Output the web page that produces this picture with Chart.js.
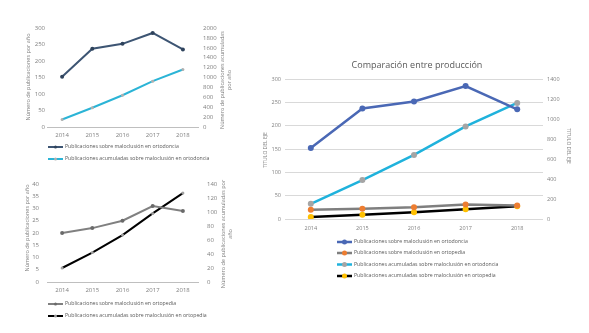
<!DOCTYPE html>
<html><head><meta charset="utf-8">
<script src="https://cdn.jsdelivr.net/npm/chart.js@4/dist/chart.umd.min.js"></script>
<style>
html,body{margin:0;padding:0;background:#fff;width:589px;height:333px;overflow:hidden;}
canvas{position:absolute;}
</style></head><body>
<canvas id="c1" width="240" height="170" style="left:0;top:0"></canvas>
<canvas id="c2" width="240" height="163" style="left:0;top:170px"></canvas>
<canvas id="c3" width="349" height="333" style="left:240px;top:0"></canvas>
<script>
const years = ['2014','2015','2016','2017','2018'];
const ortodonciaAnual = [152, 237, 252, 285, 235];
const ortodonciaAcum = [152, 389, 641, 926, 1161];
const ortopediaAnual = [20, 22, 25, 31, 29];
const ortopediaAcum = [20, 42, 67, 98, 127];
const lblOrtodAnual = 'Publicaciones sobre maloclusión en ortodoncia';
const lblOrtodAcum = 'Publicaciones acumuladas sobre maloclusión en ortodoncia';
const lblOrtopAnual = 'Publicaciones sobre maloclusión en ortopedia';
const lblOrtopAcum = 'Publicaciones acumuladas sobre maloclusión en ortopedia';

Chart.defaults.font.family = '"Open Sans", sans-serif';
Chart.defaults.color = '#7f7f7f';

const overlay = {
  id: 'overlay',
  afterDraw(chart, args, opts) {
    const ctx = chart.ctx;
    (opts.texts || []).forEach(t => {
      ctx.save();
      ctx.translate(t.x, t.y);
      ctx.rotate(t.rot || 0);
      ctx.font = t.font;
      ctx.fillStyle = t.color;
      ctx.textAlign = 'center';
      ctx.textBaseline = 'middle';
      t.lines.forEach((l, i) => ctx.fillText(l, 0, (i - (t.lines.length - 1) / 2) * t.lh));
      ctx.restore();
    });
    const lg = opts.legend;
    if (lg) {
      lg.rows.forEach((r, i) => {
        const ds = chart.data.datasets[r];
        const y = lg.ys[i];
        ctx.save();
        ctx.strokeStyle = ds.borderColor;
        ctx.lineWidth = lg.lw;
        ctx.beginPath(); ctx.moveTo(lg.x, y); ctx.lineTo(lg.x + lg.len, y); ctx.stroke();
        ctx.fillStyle = ds.pointBackgroundColor;
        ctx.beginPath(); ctx.arc(lg.x + lg.len / 2, y, lg.r, 0, Math.PI * 2); ctx.fill();
        ctx.font = lg.font;
        ctx.fillStyle = '#595959';
        ctx.textAlign = 'left';
        ctx.textBaseline = 'middle';
        ctx.fillText(ds.label, lg.x + lg.len + 2, y);
        ctx.restore();
      });
    }
  }
};

function fixW(w) { return s => { s.width = w; }; }
function fixH(h) { return s => { s.height = h; }; }
const plain = v => String(v);

function baseOpts(o) {
  return {
    responsive: false, animation: false, devicePixelRatio: 1,
    layout: { padding: { top: o.top, left: 0, right: 0, bottom: 0 } },
    plugins: { legend: { display: false }, tooltip: { enabled: false }, overlay: o.overlay },
    scales: {
      x: {
        offset: true,
        grid: { display: false, drawTicks: false },
        border: { display: o.xBorder, color: '#bfbfbf', width: 1 },
        ticks: { padding: o.xPad, font: { size: o.tick }, color: '#7f7f7f', maxRotation: 0, autoSkip: false },
        afterFit: fixH(o.xH)
      },
      y: {
        position: 'left', min: 0, max: o.yMax,
        grid: { display: o.grid, color: '#d9d9d9', drawTicks: false },
        border: { display: false },
        ticks: { stepSize: o.yStep, padding: o.yPad, font: { size: o.tick }, color: '#7f7f7f', autoSkip: false, callback: plain },
        afterFit: fixW(o.yW)
      },
      y1: {
        position: 'right', min: 0, max: o.y1Max,
        grid: { display: false, drawOnChartArea: false, drawTicks: false },
        border: { display: false },
        ticks: { stepSize: o.y1Step, padding: o.y1Pad, font: { size: o.tick }, color: '#7f7f7f', autoSkip: false, callback: plain },
        afterFit: fixW(o.y1W)
      }
    }
  };
}

// Chart 1: ortodoncia
new Chart(document.getElementById('c1'), {
  type: 'line',
  data: {
    labels: years,
    datasets: [
      { label: lblOrtodAnual, data: ortodonciaAnual, yAxisID: 'y', borderColor: '#3d5573', backgroundColor: '#3d5573',
        pointBackgroundColor: '#2f435c', pointBorderWidth: 0, borderWidth: 2, pointRadius: 2, tension: 0 },
      { label: lblOrtodAcum, data: ortodonciaAcum, yAxisID: 'y1', borderColor: '#2bb4d6', backgroundColor: '#2bb4d6',
        pointBackgroundColor: '#b0b0b0', pointBorderWidth: 0, borderWidth: 2, pointRadius: 1.5, tension: 0 }
    ]
  },
  options: baseOpts({
    top: 28, xH: 43, yW: 47, y1W: 42, xPad: 5, yPad: 2, y1Pad: 5, tick: 6, grid: false, xBorder: true,
    yMax: 300, yStep: 50, y1Max: 2000, y1Step: 200,
    overlay: {
      texts: [
        { lines: ['Número de publicaciones por año'], x: 28, y: 77, rot: -Math.PI / 2, font: '5.5px "Open Sans"', color: '#7f7f7f', lh: 7 },
        { lines: ['Número de publicaciones acumuladas', 'por año'], x: 226, y: 80, rot: -Math.PI / 2, font: '5.5px "Open Sans"', color: '#7f7f7f', lh: 7.5 }
      ],
      legend: { rows: [0, 1], x: 48, len: 15, ys: [147, 159], lw: 2, r: 1.5, font: '5.2px "Open Sans"' }
    }
  }),
  plugins: [overlay]
});

// Chart 2: ortopedia
new Chart(document.getElementById('c2'), {
  type: 'line',
  data: {
    labels: years,
    datasets: [
      { label: lblOrtopAnual, data: ortopediaAnual, yAxisID: 'y', borderColor: '#808080', backgroundColor: '#808080',
        pointBackgroundColor: '#6a6a6a', pointBorderWidth: 0, borderWidth: 2, pointRadius: 2, tension: 0 },
      { label: lblOrtopAcum, data: ortopediaAcum, yAxisID: 'y1', borderColor: '#000000', backgroundColor: '#000000',
        pointBackgroundColor: '#a0a0a0', pointBorderWidth: 0, borderWidth: 2, pointRadius: 1.5, tension: 0 }
    ]
  },
  options: baseOpts({
    top: 14, xH: 51, yW: 47, y1W: 42, xPad: 5, yPad: 8, y1Pad: 9, tick: 6, grid: false, xBorder: true,
    yMax: 40, yStep: 5, y1Max: 140, y1Step: 20,
    overlay: {
      texts: [
        { lines: ['Número de publicaciones por año'], x: 27, y: 58, rot: -Math.PI / 2, font: '5.5px "Open Sans"', color: '#7f7f7f', lh: 7 },
        { lines: ['Número de publicaciones acumuladas por', 'año'], x: 227, y: 64, rot: -Math.PI / 2, font: '5.5px "Open Sans"', color: '#7f7f7f', lh: 7.5 }
      ],
      legend: { rows: [0, 1], x: 48, len: 15, ys: [134, 146], lw: 2, r: 1.5, font: '5.2px "Open Sans"' }
    }
  }),
  plugins: [overlay]
});

// Chart 3: comparación
new Chart(document.getElementById('c3'), {
  type: 'line',
  data: {
    labels: years,
    datasets: [
      { label: lblOrtodAnual, data: ortodonciaAnual, yAxisID: 'y', borderColor: '#4a68b5', backgroundColor: '#4a68b5',
        pointBackgroundColor: '#4a68b5', pointBorderWidth: 0, borderWidth: 2.5, pointRadius: 3, tension: 0 },
      { label: lblOrtopAnual, data: ortopediaAnual, yAxisID: 'y', borderColor: '#7f7f7f', backgroundColor: '#7f7f7f',
        pointBackgroundColor: '#ed7d31', pointBorderWidth: 0, borderWidth: 2.5, pointRadius: 3, tension: 0 },
      { label: lblOrtodAcum, data: ortodonciaAcum, yAxisID: 'y1', borderColor: '#1fb2dc', backgroundColor: '#1fb2dc',
        pointBackgroundColor: '#a5a5a5', pointBorderWidth: 0, borderWidth: 2.5, pointRadius: 3, tension: 0 },
      { label: lblOrtopAcum, data: ortopediaAcum, yAxisID: 'y1', borderColor: '#000000', backgroundColor: '#000000',
        pointBackgroundColor: '#ffc000', pointBorderWidth: 0, borderWidth: 2.5, pointRadius: 3, tension: 0 }
    ]
  },
  options: baseOpts({
    top: 79, xH: 114, yW: 45, y1W: 46, xPad: 6, yPad: 4, y1Pad: 4, tick: 5.5, grid: true, xBorder: false,
    yMax: 300, yStep: 50, y1Max: 1400, y1Step: 200,
    overlay: {
      texts: [
        { lines: ['Comparación entre producción'], x: 177, y: 65, rot: 0, font: '9px "Open Sans"', color: '#595959', lh: 10 },
        { lines: ['TITULO DEL EJE'], x: 26, y: 150, rot: -Math.PI / 2, font: '5px "Open Sans"', color: '#7f7f7f', lh: 6 },
        { lines: ['TITULO DEL EJE'], x: 328, y: 146, rot: Math.PI / 2, font: '5px "Open Sans"', color: '#7f7f7f', lh: 6 }
      ],
      legend: { rows: [0, 1, 2, 3], x: 97, len: 15, ys: [242, 253, 264.5, 276], lw: 2.5, r: 2.5, font: '5.2px "Open Sans"' }
    }
  }),
  plugins: [overlay]
});
</script>
</body></html>
